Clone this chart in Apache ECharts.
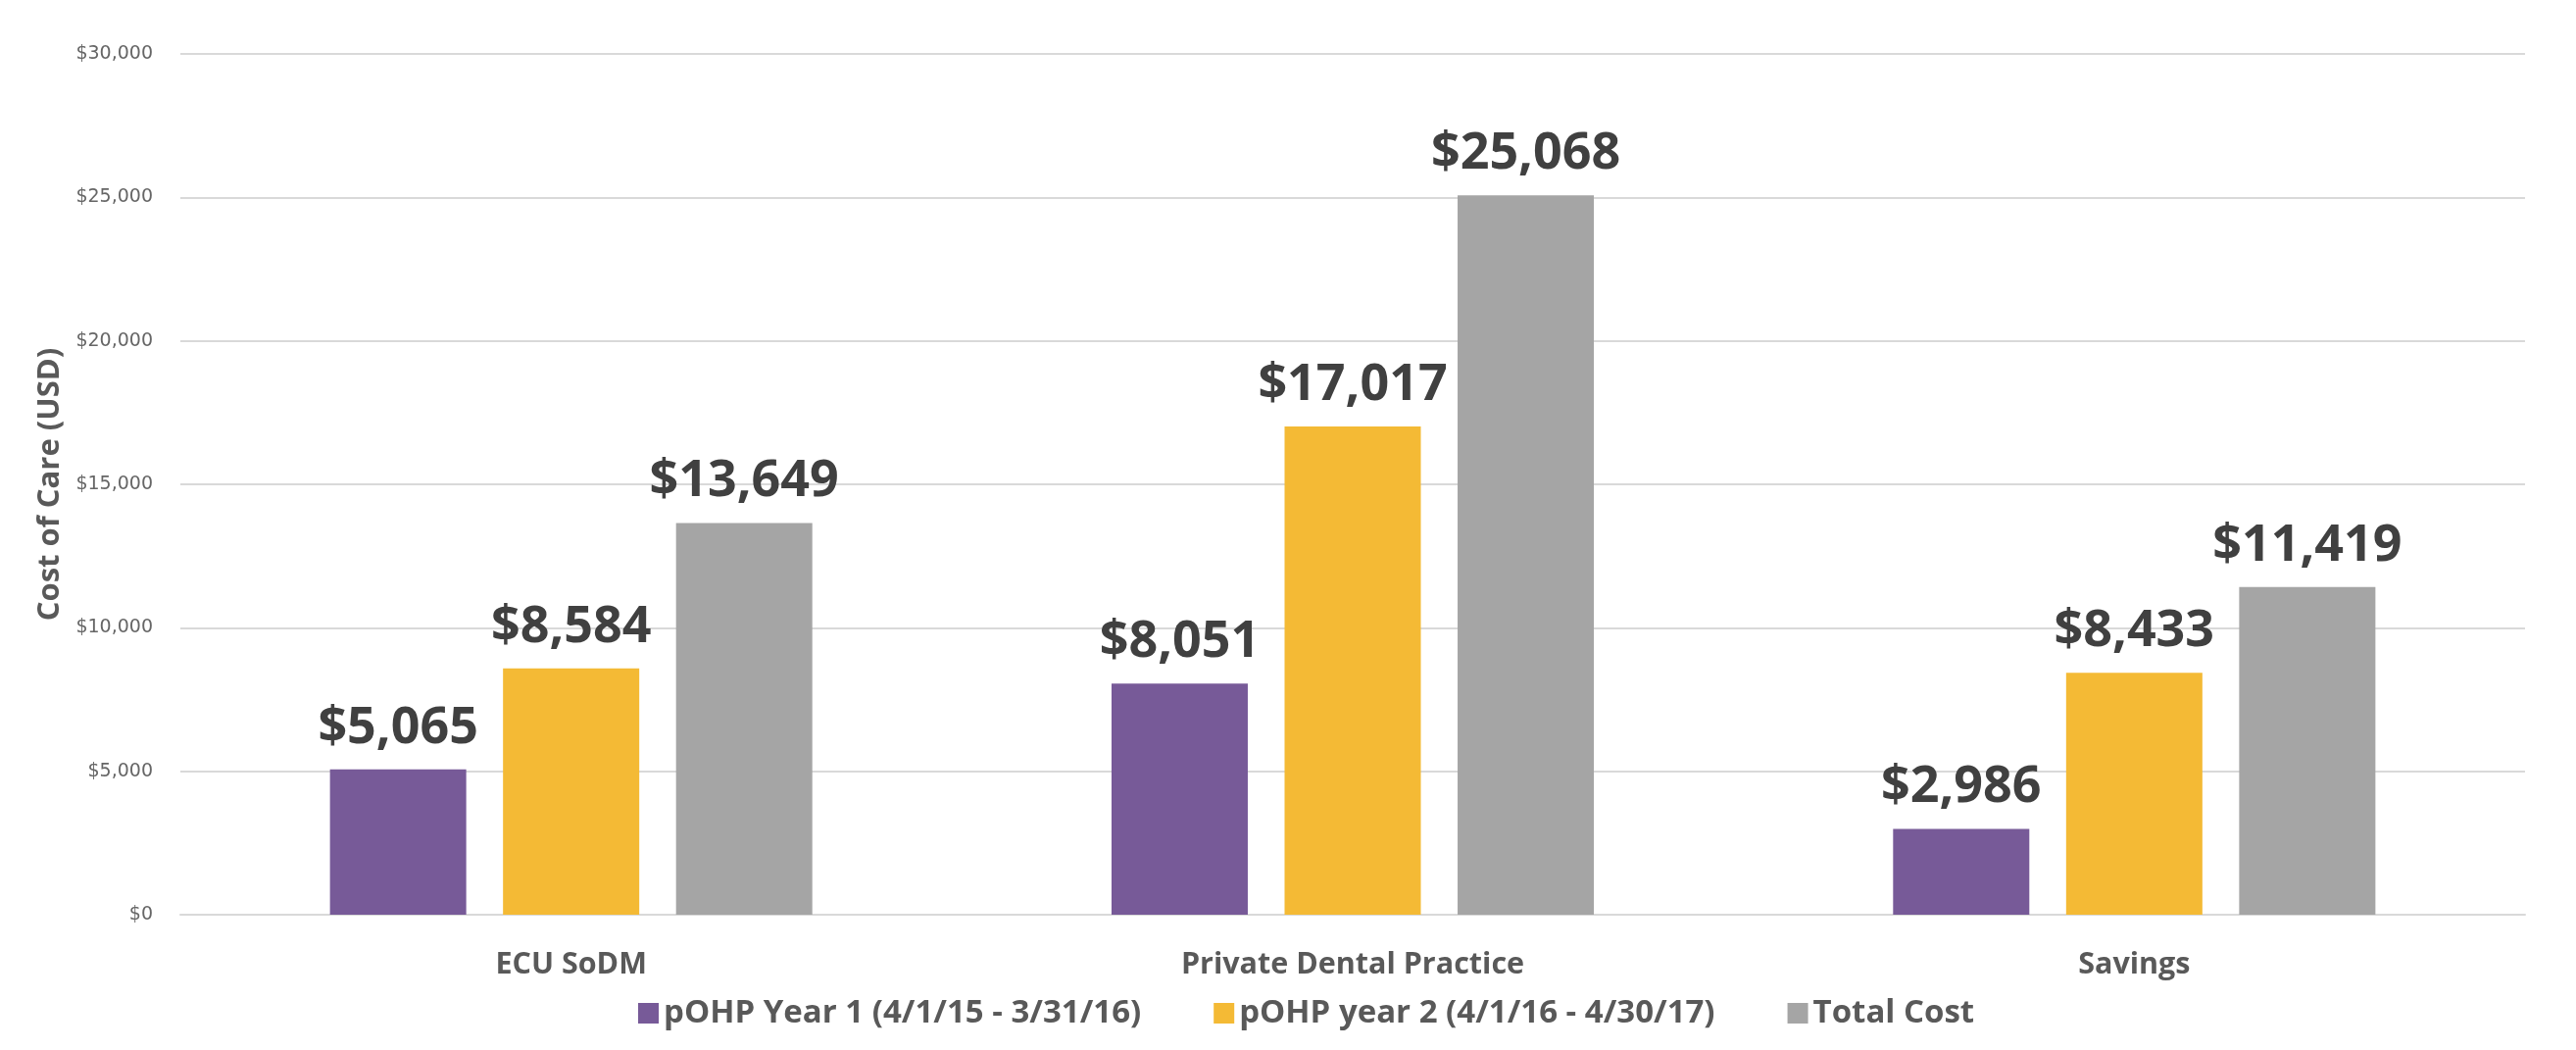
<!DOCTYPE html>
<html>
<head>
<meta charset="utf-8">
<script src="https://cdn.jsdelivr.net/npm/echarts@6/dist/echarts.min.js"></script>
<style>
  html, body { margin: 0; padding: 0; background: #fff; }
  #chart { width: 2628px; height: 1071px; }
</style>
</head>
<body>
<div id="chart"></div>
<script>
// categories and series
const categories = ['ECU SoDM', 'Private Dental Practice', 'Savings']
const year1 = [5065, 8051, 2986]
const year2 = [8584, 17017, 8433]
const totalCost = [13649, 25068, 11419]
const seriesNames = ['pOHP Year 1 (4/1/15 - 3/31/16)', 'pOHP year 2 (4/1/16 - 4/30/17)', 'Total Cost']
const seriesColors = ['#775a98', '#f4ba35', '#a5a5a5']

const money = v => '$' + Number(v).toLocaleString('en-US')

const chart = echarts.init(document.getElementById('chart'))

const makeSeries = (name, data, color) => ({
  name: name,
  type: 'bar',
  data: data,
  barWidth: 139,
  barGap: '27%',
  itemStyle: { color: color },
  label: {
    show: true,
    position: 'top',
    distance: 16,
    formatter: p => money(p.value),
    fontFamily: 'Open Sans',
    fontWeight: 'bold',
    fontSize: 52,
    lineHeight: 52,
    color: '#404040'
  }
})

const option = {
  animation: false,
  backgroundColor: '#ffffff',
  grid: { left: 184, right: 52, top: 55, bottom: 138 },
  legend: {
    data: seriesNames,
    left: 646,
    top: 1012,
    icon: 'rect',
    itemWidth: 21,
    itemHeight: 21,
    itemGap: 74,
    textStyle: { fontFamily: 'Open Sans', fontWeight: 'bold', fontSize: 33, color: '#595959' }
  },
  xAxis: {
    type: 'category',
    data: categories,
    axisTick: { show: false },
    axisLine: { lineStyle: { color: '#d9d9d9', width: 2 } },
    axisLabel: { margin: 36, fontFamily: 'Open Sans', fontWeight: 'bold', fontSize: 30.5, color: '#595959' }
  },
  yAxis: {
    type: 'value',
    min: 0,
    max: 30000,
    interval: 5000,
    name: 'Cost of Care (USD)',
    nameLocation: 'middle',
    nameGap: 117,
    nameTextStyle: { fontFamily: 'Open Sans', fontWeight: 'bold', fontSize: 31, color: '#595959' },
    axisLine: { show: false },
    axisTick: { show: false },
    splitLine: { lineStyle: { color: '#d9d9d9', width: 2 } },
    axisLabel: { margin: 28, formatter: v => money(v), fontFamily: 'DejaVu Sans', fontSize: 19, color: '#666666' }
  },
  series: [
    makeSeries(seriesNames[0], year1, seriesColors[0]),
    makeSeries(seriesNames[1], year2, seriesColors[1]),
    makeSeries(seriesNames[2], totalCost, seriesColors[2])
  ]
}

chart.setOption(option)
</script>
</body>
</html>
